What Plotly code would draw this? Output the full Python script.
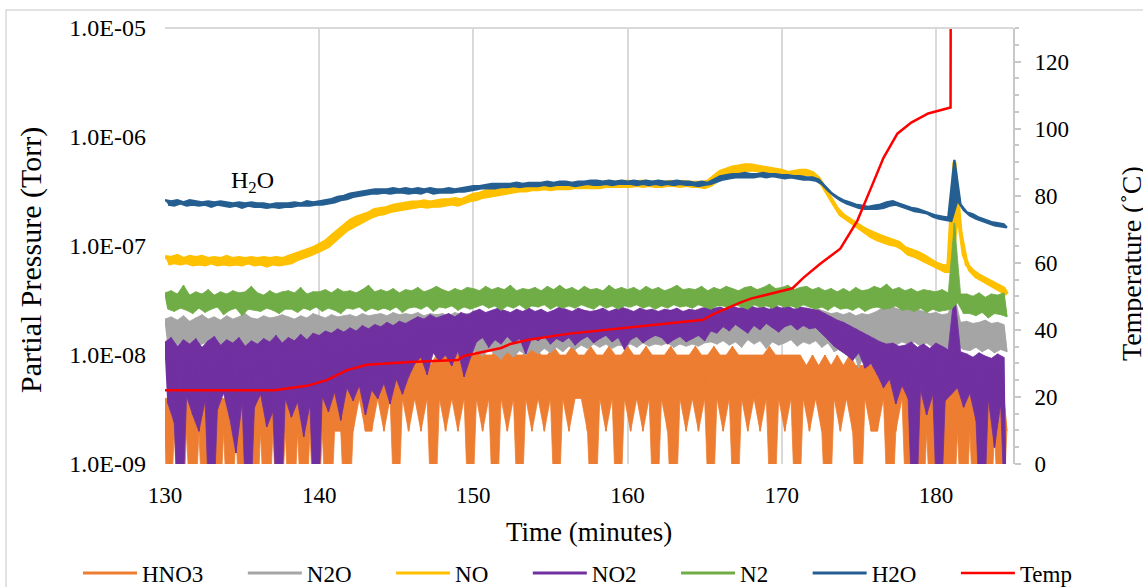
import numpy as np
import plotly.graph_objects as go

STEP = 0.2   # minutes between samples
T0 = 130.0   # first sample time (minutes)

# log10 of partial pressure (Torr); each row = 2 minutes (10 samples).
# Even samples are the upper edge of the noise band, odd samples the lower edge.
h2o_log = [
    -6.58,-6.62,-6.59,-6.63,-6.58,-6.61,-6.60,-6.63,-6.58,-6.62,
    -6.59,-6.63,-6.60,-6.62,-6.59,-6.64,-6.60,-6.62,-6.59,-6.63,
    -6.60,-6.64,-6.61,-6.63,-6.60,-6.65,-6.61,-6.63,-6.60,-6.64,
    -6.61,-6.64,-6.61,-6.65,-6.62,-6.64,-6.61,-6.65,-6.61,-6.64,
    -6.61,-6.64,-6.60,-6.63,-6.61,-6.63,-6.59,-6.63,-6.60,-6.62,
    -6.59,-6.62,-6.58,-6.61,-6.57,-6.60,-6.55,-6.58,-6.54,-6.57,
    -6.52,-6.55,-6.51,-6.54,-6.50,-6.53,-6.49,-6.52,-6.48,-6.52,
    -6.48,-6.51,-6.48,-6.52,-6.47,-6.51,-6.48,-6.51,-6.47,-6.52,
    -6.48,-6.51,-6.47,-6.52,-6.48,-6.50,-6.47,-6.52,-6.48,-6.51,
    -6.48,-6.51,-6.47,-6.51,-6.48,-6.50,-6.47,-6.50,-6.46,-6.49,
    -6.45,-6.48,-6.45,-6.47,-6.44,-6.47,-6.43,-6.47,-6.43,-6.46,
    -6.43,-6.46,-6.43,-6.45,-6.42,-6.46,-6.43,-6.45,-6.42,-6.45,
    -6.42,-6.45,-6.42,-6.44,-6.41,-6.45,-6.42,-6.44,-6.41,-6.44,
    -6.41,-6.44,-6.42,-6.45,-6.41,-6.44,-6.41,-6.43,-6.40,-6.44,
    -6.40,-6.44,-6.41,-6.43,-6.40,-6.44,-6.41,-6.43,-6.40,-6.43,
    -6.41,-6.43,-6.40,-6.44,-6.41,-6.43,-6.40,-6.44,-6.41,-6.43,
    -6.40,-6.44,-6.41,-6.43,-6.41,-6.44,-6.40,-6.43,-6.41,-6.44,
    -6.41,-6.44,-6.42,-6.45,-6.41,-6.44,-6.42,-6.43,-6.39,-6.41,
    -6.36,-6.39,-6.35,-6.38,-6.34,-6.37,-6.34,-6.37,-6.33,-6.37,
    -6.34,-6.37,-6.34,-6.36,-6.33,-6.37,-6.34,-6.36,-6.34,-6.37,
    -6.35,-6.38,-6.35,-6.37,-6.36,-6.38,-6.36,-6.39,-6.37,-6.39,
    -6.37,-6.40,-6.39,-6.43,-6.45,-6.49,-6.51,-6.54,-6.55,-6.58,
    -6.58,-6.61,-6.60,-6.63,-6.62,-6.65,-6.63,-6.66,-6.64,-6.66,
    -6.63,-6.66,-6.62,-6.65,-6.60,-6.63,-6.59,-6.62,-6.61,-6.64,
    -6.63,-6.66,-6.65,-6.68,-6.66,-6.69,-6.68,-6.70,-6.70,-6.73,
    -6.72,-6.75,-6.73,-6.76,-6.74,-6.77,-6.21,-6.58,-6.62,-6.67,
    -6.69,-6.72,-6.71,-6.75,-6.74,-6.77,-6.76,-6.79,-6.78,-6.81,
    -6.79,-6.82,-6.80,-6.83,
]

no_log = [
    -7.10,-7.16,-7.11,-7.15,-7.09,-7.16,-7.12,-7.15,-7.10,-7.17,
    -7.11,-7.16,-7.10,-7.17,-7.12,-7.15,-7.11,-7.17,-7.12,-7.16,
    -7.10,-7.17,-7.12,-7.16,-7.11,-7.17,-7.12,-7.15,-7.11,-7.17,
    -7.12,-7.16,-7.11,-7.18,-7.12,-7.16,-7.11,-7.17,-7.12,-7.16,
    -7.10,-7.15,-7.08,-7.12,-7.06,-7.10,-7.04,-7.08,-7.02,-7.06,
    -6.99,-7.03,-6.96,-7.00,-6.91,-6.95,-6.86,-6.90,-6.81,-6.85,
    -6.77,-6.81,-6.74,-6.78,-6.72,-6.76,-6.70,-6.73,-6.67,-6.71,
    -6.66,-6.70,-6.65,-6.68,-6.63,-6.67,-6.62,-6.66,-6.61,-6.65,
    -6.60,-6.64,-6.60,-6.63,-6.59,-6.64,-6.60,-6.63,-6.59,-6.63,
    -6.58,-6.62,-6.58,-6.61,-6.57,-6.62,-6.58,-6.60,-6.55,-6.58,
    -6.53,-6.57,-6.52,-6.55,-6.50,-6.54,-6.49,-6.53,-6.48,-6.52,
    -6.47,-6.51,-6.46,-6.50,-6.46,-6.49,-6.45,-6.49,-6.45,-6.48,
    -6.44,-6.48,-6.44,-6.47,-6.43,-6.48,-6.44,-6.47,-6.43,-6.47,
    -6.43,-6.47,-6.43,-6.46,-6.42,-6.46,-6.43,-6.46,-6.42,-6.46,
    -6.42,-6.46,-6.42,-6.45,-6.41,-6.45,-6.42,-6.45,-6.41,-6.45,
    -6.41,-6.45,-6.42,-6.44,-6.41,-6.45,-6.41,-6.44,-6.42,-6.45,
    -6.41,-6.45,-6.42,-6.44,-6.41,-6.44,-6.42,-6.45,-6.41,-6.44,
    -6.42,-6.45,-6.42,-6.45,-6.42,-6.46,-6.41,-6.44,-6.37,-6.40,
    -6.32,-6.36,-6.30,-6.34,-6.28,-6.33,-6.27,-6.31,-6.26,-6.30,
    -6.26,-6.30,-6.27,-6.31,-6.28,-6.32,-6.29,-6.33,-6.30,-6.34,
    -6.31,-6.35,-6.33,-6.36,-6.32,-6.36,-6.31,-6.34,-6.31,-6.34,
    -6.33,-6.37,-6.38,-6.43,-6.47,-6.52,-6.57,-6.62,-6.66,-6.71,
    -6.72,-6.76,-6.76,-6.80,-6.79,-6.84,-6.83,-6.87,-6.86,-6.91,
    -6.89,-6.94,-6.91,-6.96,-6.93,-6.98,-6.95,-6.99,-6.97,-7.02,
    -7.02,-7.07,-7.04,-7.09,-7.06,-7.11,-7.09,-7.14,-7.13,-7.18,
    -7.16,-7.20,-7.18,-7.23,-7.19,-7.23,-6.23,-6.66,-6.88,-7.08,
    -7.17,-7.22,-7.23,-7.28,-7.27,-7.32,-7.30,-7.35,-7.33,-7.38,
    -7.36,-7.41,-7.39,-7.44,
]

n2_log = [
    -7.43,-7.58,-7.41,-7.60,-7.44,-7.57,-7.36,-7.59,-7.45,-7.62,
    -7.42,-7.57,-7.44,-7.61,-7.40,-7.58,-7.45,-7.56,-7.42,-7.63,
    -7.44,-7.59,-7.41,-7.57,-7.43,-7.64,-7.42,-7.58,-7.37,-7.59,
    -7.43,-7.60,-7.45,-7.57,-7.41,-7.59,-7.44,-7.62,-7.42,-7.58,
    -7.41,-7.58,-7.43,-7.61,-7.38,-7.57,-7.44,-7.59,-7.42,-7.56,
    -7.42,-7.60,-7.40,-7.57,-7.43,-7.59,-7.39,-7.62,-7.42,-7.57,
    -7.41,-7.58,-7.43,-7.56,-7.40,-7.60,-7.36,-7.57,-7.42,-7.59,
    -7.40,-7.57,-7.42,-7.59,-7.39,-7.56,-7.43,-7.61,-7.40,-7.57,
    -7.41,-7.56,-7.38,-7.58,-7.42,-7.55,-7.40,-7.60,-7.37,-7.56,
    -7.40,-7.57,-7.42,-7.55,-7.39,-7.59,-7.41,-7.56,-7.38,-7.58,
    -7.39,-7.56,-7.41,-7.54,-7.37,-7.57,-7.40,-7.55,-7.38,-7.59,
    -7.40,-7.55,-7.36,-7.57,-7.41,-7.54,-7.39,-7.58,-7.40,-7.55,
    -7.38,-7.56,-7.41,-7.54,-7.37,-7.58,-7.40,-7.55,-7.36,-7.57,
    -7.40,-7.55,-7.38,-7.57,-7.41,-7.54,-7.37,-7.56,-7.40,-7.58,
    -7.39,-7.54,-7.41,-7.57,-7.36,-7.55,-7.40,-7.58,-7.38,-7.55,
    -7.40,-7.56,-7.38,-7.54,-7.41,-7.57,-7.37,-7.55,-7.40,-7.58,
    -7.38,-7.55,-7.41,-7.57,-7.39,-7.54,-7.36,-7.56,-7.40,-7.55,
    -7.39,-7.57,-7.40,-7.54,-7.37,-7.56,-7.41,-7.58,-7.38,-7.55,
    -7.40,-7.55,-7.37,-7.57,-7.39,-7.54,-7.41,-7.56,-7.38,-7.58,
    -7.37,-7.54,-7.40,-7.56,-7.38,-7.55,-7.35,-7.57,-7.39,-7.54,
    -7.38,-7.56,-7.36,-7.55,-7.40,-7.57,-7.38,-7.54,-7.37,-7.56,
    -7.40,-7.58,-7.38,-7.56,-7.41,-7.59,-7.39,-7.55,-7.42,-7.58,
    -7.39,-7.57,-7.42,-7.59,-7.38,-7.56,-7.41,-7.60,-7.40,-7.57,
    -7.37,-7.56,-7.39,-7.58,-7.35,-7.57,-7.40,-7.55,-7.38,-7.59,
    -7.41,-7.58,-7.39,-7.60,-7.42,-7.57,-7.40,-7.61,-7.41,-7.58,
    -7.42,-7.60,-7.40,-7.59,-7.43,-7.58,-6.79,-7.52,-7.44,-7.62,
    -7.44,-7.62,-7.46,-7.64,-7.43,-7.61,-7.47,-7.66,-7.44,-7.62,
    -7.45,-7.63,-7.43,-7.65,
]

n2o_log = [
    -7.67,-7.90,-7.65,-7.93,-7.68,-7.88,-7.64,-7.92,-7.69,-7.89,
    -7.66,-7.91,-7.63,-7.89,-7.67,-7.94,-7.65,-7.90,-7.68,-7.92,
    -7.64,-7.89,-7.67,-7.92,-7.65,-7.90,-7.62,-7.93,-7.66,-7.88,
    -7.67,-7.91,-7.64,-7.89,-7.66,-7.95,-7.65,-7.90,-7.63,-7.92,
    -7.65,-7.88,-7.67,-7.91,-7.64,-7.90,-7.66,-7.93,-7.62,-7.89,
    -7.64,-7.90,-7.66,-7.88,-7.63,-7.92,-7.65,-7.89,-7.64,-7.91,
    -7.63,-7.89,-7.65,-7.91,-7.62,-7.88,-7.64,-7.92,-7.63,-7.90,
    -7.62,-7.90,-7.64,-7.88,-7.61,-7.93,-7.63,-7.89,-7.62,-7.91,
    -7.63,-7.92,-7.61,-7.90,-7.64,-7.94,-7.62,-7.91,-7.63,-7.96,
    -7.62,-7.93,-7.64,-7.97,-7.61,-7.92,-7.63,-7.95,-7.62,-7.98,
    -7.64,-7.96,-7.62,-8.01,-7.65,-7.95,-7.63,-7.99,-7.64,-8.04,
    -7.63,-7.97,-7.65,-8.02,-7.62,-7.96,-7.64,-8.00,-7.63,-7.95,
    -7.65,-7.99,-7.63,-7.94,-7.66,-7.98,-7.64,-7.93,-7.65,-7.97,
    -7.64,-7.92,-7.66,-7.95,-7.63,-7.91,-7.65,-7.94,-7.64,-7.90,
    -7.66,-7.93,-7.64,-7.90,-7.67,-7.94,-7.65,-7.91,-7.63,-7.92,
    -7.65,-7.90,-7.67,-7.93,-7.64,-7.89,-7.66,-7.92,-7.65,-7.90,
    -7.66,-7.91,-7.64,-7.89,-7.67,-7.93,-7.65,-7.90,-7.66,-7.92,
    -7.64,-7.90,-7.66,-7.92,-7.63,-7.89,-7.62,-7.88,-7.60,-7.90,
    -7.58,-7.87,-7.60,-7.91,-7.57,-7.88,-7.59,-7.93,-7.58,-7.86,
    -7.60,-7.90,-7.57,-7.87,-7.59,-7.94,-7.58,-7.88,-7.60,-7.91,
    -7.57,-7.89,-7.59,-7.86,-7.58,-7.92,-7.60,-7.88,-7.57,-7.90,
    -7.59,-7.87,-7.58,-7.93,-7.60,-7.89,-7.62,-7.97,-7.61,-7.94,
    -7.63,-7.98,-7.61,-7.95,-7.64,-8.12,-7.62,-7.97,-7.63,-8.00,
    -7.61,-7.96,-7.58,-7.92,-7.57,-7.89,-7.56,-7.91,-7.58,-7.88,
    -7.57,-7.90,-7.59,-7.88,-7.58,-7.92,-7.60,-7.89,-7.62,-7.93,
    -7.61,-7.91,-7.63,-7.94,-7.62,-7.93,-7.45,-7.92,-7.70,-7.95,
    -7.69,-7.96,-7.71,-7.93,-7.70,-7.97,-7.68,-7.94,-7.71,-7.98,
    -7.70,-7.95,-7.72,-7.97,
]

# -10 marks a zero reading (falls below the axis)
no2_log = [
    -7.88,-8.45,-7.84,-8.62,-7.92,-10,-7.86,-8.38,-7.90,-8.55,
    -7.85,-8.70,-7.93,-8.42,-7.87,-10,-7.83,-8.50,-7.91,-8.35,
    -7.86,-8.58,-7.89,-8.90,-7.84,-8.44,-7.92,-10,-7.87,-8.48,
    -7.90,-8.36,-7.85,-8.66,-7.88,-8.52,-7.82,-10,-7.89,-8.40,
    -7.84,-8.57,-7.87,-8.43,-7.81,-8.75,-7.86,-8.46,-7.80,-10,
    -7.82,-8.38,-7.78,-8.52,-7.80,-8.34,-7.76,-8.60,-7.79,-8.30,
    -7.75,-8.42,-7.78,-8.28,-7.73,-8.55,-7.76,-8.32,-7.72,-8.40,
    -7.74,-8.26,-7.70,-8.45,-7.73,-8.22,-7.69,-8.36,-7.71,-8.20,
    -7.68,-8.08,-7.65,-8.02,-7.67,-8.18,-7.63,-7.98,-7.66,-8.06,
    -7.64,-8.00,-7.62,-8.10,-7.65,-7.96,-7.61,-8.20,-7.63,-8.03,
    -7.60,-7.88,-7.58,-7.84,-7.61,-7.93,-7.59,-7.86,-7.57,-7.90,
    -7.59,-7.83,-7.61,-7.89,-7.58,-7.85,-7.60,-7.99,-7.57,-7.84,
    -7.60,-7.87,-7.58,-7.83,-7.61,-7.90,-7.59,-7.85,-7.56,-7.88,
    -7.58,-7.84,-7.60,-7.91,-7.57,-7.86,-7.59,-7.83,-7.60,-7.89,
    -7.59,-7.85,-7.57,-7.82,-7.60,-7.88,-7.58,-7.84,-7.56,-7.95,
    -7.58,-7.86,-7.60,-7.83,-7.57,-7.89,-7.59,-7.85,-7.58,-7.82,
    -7.60,-7.84,-7.58,-7.90,-7.59,-7.86,-7.57,-7.83,-7.60,-7.88,
    -7.58,-7.85,-7.59,-7.82,-7.57,-7.87,-7.56,-7.78,-7.57,-7.80,
    -7.56,-7.74,-7.58,-7.78,-7.55,-7.72,-7.57,-7.76,-7.56,-7.80,
    -7.55,-7.73,-7.57,-7.77,-7.56,-7.71,-7.58,-7.75,-7.55,-7.79,
    -7.57,-7.74,-7.55,-7.72,-7.58,-7.77,-7.56,-7.73,-7.57,-7.76,
    -7.58,-7.75,-7.59,-7.80,-7.62,-7.86,-7.65,-7.92,-7.68,-7.96,
    -7.70,-8.00,-7.73,-8.05,-7.76,-7.98,-7.79,-8.12,-7.82,-8.08,
    -7.85,-8.18,-7.88,-8.30,-7.90,-8.22,-7.89,-8.45,-7.92,-8.28,
    -7.91,-8.40,-7.88,-10,-7.93,-8.32,-7.90,-8.55,-7.94,-8.36,
    -7.89,-10,-7.92,-8.42,-7.95,-8.36,-7.42,-8.30,-7.97,-8.48,
    -7.99,-8.35,-8.02,-8.60,-7.98,-10,-8.01,-8.40,-8.03,-8.85,
    -7.99,-8.45,-8.02,-10,
]

# HNO3 readings in units of 1e-9 Torr (instrument quantised in steps of 2)
hno3_e9 = [
    4,0,4,2,6,0,4,2,4,0,
    4,2,4,0,4,2,6,0,4,2,
    4,0,6,2,4,0,4,2,4,0,
    6,2,4,0,4,2,4,0,6,2,
    4,0,4,2,6,0,4,2,6,0,
    6,2,6,0,8,2,6,2,8,0,
    8,2,6,4,8,2,10,2,8,4,
    10,2,8,4,10,0,8,4,10,2,
    10,4,12,2,10,4,8,0,10,4,
    12,2,10,4,10,2,12,4,10,0,
    10,4,12,2,10,4,10,0,12,4,
    10,2,12,4,10,0,10,4,12,2,
    12,4,10,2,10,4,12,0,10,4,
    10,2,12,4,10,4,10,2,12,0,
    10,4,10,2,12,4,10,0,10,4,
    12,2,10,4,10,2,12,4,10,0,
    10,4,10,2,12,0,10,4,10,2,
    10,4,12,2,10,4,10,0,12,4,
    10,2,10,4,12,0,10,4,10,2,
    10,4,10,2,10,4,12,0,10,4,
    10,2,10,4,10,0,10,4,8,2,
    10,4,8,2,10,0,8,4,10,2,
    8,4,10,2,8,0,8,4,8,2,
    8,2,6,4,8,0,6,2,6,4,
    6,0,6,2,4,0,6,2,4,0,
    6,2,4,0,6,0,8,2,6,0,
    4,2,6,0,4,2,6,0,4,2,
    6,0,4,2,
]

# Temperature (deg C) vs time (minutes)
temp_t = [130.0, 137.1, 139.2, 140.5, 141.8, 143.1, 145.9, 149.0, 149.4, 151.8,
          152.4, 153.5, 156.1, 161.5, 164.9, 165.6, 166.5, 167.3, 168.0, 170.7,
          171.4, 172.5, 173.8, 174.9, 175.8, 176.6, 177.5, 178.4, 179.5, 180.95,
          181.0]
temp_c = [22.0, 22.0, 23.3, 25.0, 28.0, 29.6, 30.4, 31.0, 32.2, 34.6,
          35.8, 37.0, 38.8, 41.5, 43.0, 44.8, 46.6, 48.1, 49.3, 52.4,
          55.5, 59.7, 64.2, 72.5, 82.4, 91.3, 98.5, 101.8, 104.5, 106.3,
          250.0]

left_tick_vals = [1e-9, 1e-8, 1e-7, 1e-6, 1e-5]
left_tick_text = ["1.0E-09", "1.0E-08", "1.0E-07", "1.0E-06", "1.0E-05"]
x_ticks = [130, 140, 150, 160, 170, 180]
right_ticks = [0, 20, 40, 60, 80, 100, 120]

FLOOR = 1e-10  # zero readings are drawn below the axis, as in the original


def times(n):
    return T0 + STEP * np.arange(n)


def from_log(vals):
    return 10.0 ** np.array(vals, dtype=float)


def band(vals):
    """Closed outline of a noisy trace: upper-edge samples forward, lower-edge samples back."""
    v = np.asarray(vals, dtype=float)
    t = times(len(v))
    x = np.concatenate([t[0::2], t[1::2][::-1]])
    y = np.concatenate([v[0::2], v[1::2][::-1]])
    return x, y


hno3 = np.array(hno3_e9, dtype=float) * 1e-9
hno3 = np.where(hno3 > 0, hno3, FLOOR)

FONT = "Liberation Serif, Times New Roman, serif"
GAP = "\u00a0" * 6   # spacing after each legend label

# (legend name, values, colour, outline width, draw raw trace on top)
series = [
    ("HNO3", hno3, "#ED7D31", 0.8, True),
    ("N2O", from_log(n2o_log), "#A5A5A5", 0.8, True),
    ("NO", from_log(no_log), "#FFC000", 4.0, False),
    ("NO2", from_log(no2_log), "#7030A0", 0.8, True),
    ("N2", from_log(n2_log), "#70AD47", 0.8, True),
    ("H2O", from_log(h2o_log), "#255E91", 2.3, False),
]

fig = go.Figure()
# legend entries (line symbols, in the original order)
for name, vals, color, w, raw in series:
    fig.add_trace(go.Scatter(
        x=[None], y=[None], name=name + GAP, mode="lines",
        line=dict(color=color, width=3), yaxis="y", legendgroup=name,
    ))
# the noisy traces themselves
for name, vals, color, w, raw in series:
    bx, by = band(vals)
    fig.add_trace(go.Scatter(
        x=bx, y=by, mode="lines", fill="toself", fillcolor=color,
        line=dict(color=color, width=w), yaxis="y",
        showlegend=False, legendgroup=name, hoverinfo="skip",
    ))
    if raw:
        fig.add_trace(go.Scatter(
            x=times(len(vals)), y=vals, mode="lines",
            line=dict(color=color, width=1.6), yaxis="y",
            showlegend=False, legendgroup=name, hoverinfo="skip",
        ))

fig.add_trace(go.Scatter(
    x=temp_t, y=temp_c, name="Temp", mode="lines",
    line=dict(color="#FF0000", width=2.5), yaxis="y2",
))

L, R, T, B = 165, 130, 28, 123
W, H = 1143, 587
pw, ph = W - L - R, H - T - B


def px(xp):
    return (xp - L) / pw


def py(yp):
    return (H - B - yp) / ph


fig.update_layout(
    width=W, height=H,
    margin=dict(l=L, r=R, t=T, b=B, pad=0, autoexpand=False),
    paper_bgcolor="white", plot_bgcolor="white",
    font=dict(family=FONT, color="black", size=22),
    showlegend=True,
    legend=dict(
        orientation="h", x=px(78), xanchor="left",
        y=py(573), yanchor="middle",
        font=dict(family=FONT, size=23, color="black"),
        bgcolor="rgba(0,0,0,0)", itemwidth=54,
    ),
    xaxis=dict(
        range=[130, 185], tickvals=x_ticks, showgrid=True,
        gridcolor="#d9d9d9", gridwidth=2, zeroline=False, showline=False,
        ticks="", tickfont=dict(family=FONT, size=23, color="black"),
        ticklabelstandoff=15, automargin=False,
    ),
    yaxis=dict(
        type="log", range=[-9, -5], tickvals=left_tick_vals, ticktext=left_tick_text,
        showgrid=False, zeroline=False, showline=False, ticks="",
        tickfont=dict(family=FONT, size=24, color="black"),
        ticklabelstandoff=18, automargin=False,
    ),
    yaxis2=dict(
        overlaying="y", side="right", range=[0, 130], tickvals=right_ticks,
        showgrid=False, zeroline=False, showline=True, linecolor="#c8c8c8", linewidth=2,
        ticks="outside", ticklen=6, tickwidth=2, tickcolor="#c8c8c8",
        minor=dict(dtick=5, ticks="outside", ticklen=4, tickwidth=1.5, tickcolor="#c8c8c8"),
        tickfont=dict(family=FONT, size=23, color="black"),
        ticklabelstandoff=9, automargin=False,
    ),
    annotations=[
        dict(x=135.7, y=-6.413, xref="x", yref="y", text="H<sub>2</sub>O",
             showarrow=False, font=dict(family=FONT, size=24, color="black")),
        dict(x=0.5, y=py(532), xref="paper", yref="paper", text="Time (minutes)",
             showarrow=False, xanchor="center", yanchor="middle",
             font=dict(family=FONT, size=27, color="black")),
        dict(x=px(31), y=py(260), xref="paper", yref="paper",
             text="Partial Pressure (Torr)", textangle=-90,
             showarrow=False, xanchor="center", yanchor="middle",
             font=dict(family=FONT, size=30, color="black")),
        dict(x=px(1131), y=py(264), xref="paper", yref="paper",
             text="Temperature (˚C)", textangle=-90,
             showarrow=False, xanchor="center", yanchor="middle",
             font=dict(family=FONT, size=28, color="black")),
    ],
    shapes=[
        dict(type="line", xref="paper", yref="paper", x0=0, x1=1, y0=1, y1=1,
             line=dict(color="#d9d9d9", width=2), layer="above"),
        dict(type="rect", xref="paper", yref="paper",
             x0=px(6), x1=px(1160), y0=py(610), y1=py(10),
             line=dict(color="#d9d9d9", width=1.5), layer="below"),
    ],
)

fig.write_html("out.html", config={"displayModeBar": False},
               post_script="document.body.style.margin = '0';")
